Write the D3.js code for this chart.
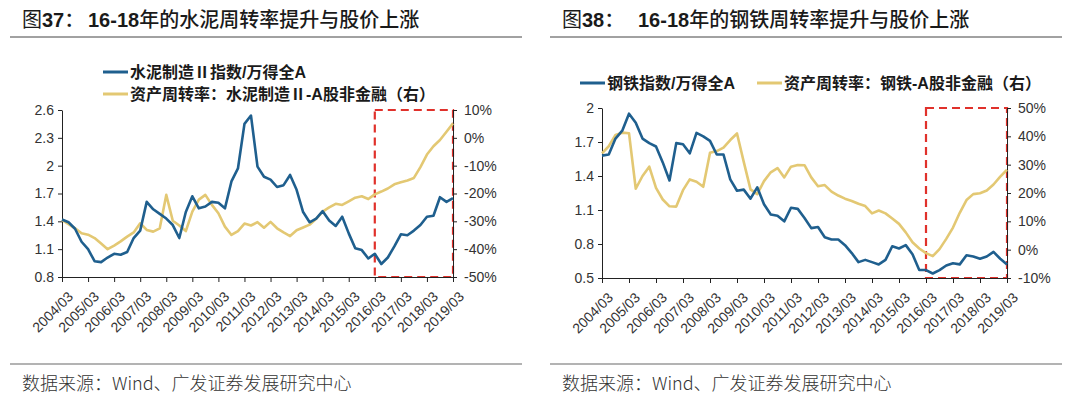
<!DOCTYPE html>
<html>
<head>
<meta charset="utf-8">
<script src="https://cdn.jsdelivr.net/npm/d3@7"></script>
<style>
  body { margin: 0; background: #fff; }
  svg text { font-family: "Liberation Sans", Arial, "Noto Sans CJK SC", sans-serif; }
</style>
</head>
<body>
<svg id="chart" width="1080" height="398"></svg>
<script>
// x-axis tick labels (one per year, March quarter)
const tickLabels = ["2004/03","2005/03","2006/03","2007/03","2008/03","2009/03","2010/03","2011/03",
  "2012/03","2013/03","2014/03","2015/03","2016/03","2017/03","2018/03","2019/03"];

// quarterly categories 2004/03 .. 2019/03
const quarters = tickLabels.flatMap((t, i) => {
  const y = t.slice(0, 4);
  return i < tickLabels.length - 1 ? [t, y + "/06", y + "/09", y + "/12"] : [t];
});

// 图37 水泥
const cementIndex = [1.42,1.39,1.32,1.18,1.10,0.97,0.96,1.01,1.05,1.04,1.07,1.22,1.30,1.61,1.53,1.48,
  1.43,1.36,1.22,1.50,1.67,1.54,1.56,1.61,1.60,1.54,1.83,1.97,2.45,2.54,1.99,1.88,
  1.85,1.77,1.79,1.90,1.74,1.50,1.39,1.43,1.51,1.41,1.35,1.45,1.27,1.11,1.09,1.00,
  1.05,0.94,1.01,1.13,1.26,1.25,1.30,1.36,1.45,1.46,1.66,1.61,1.65];
const cementTurnover = [-0.295,-0.31,-0.325,-0.343,-0.348,-0.36,-0.38,-0.40,-0.387,-0.372,-0.355,-0.34,-0.307,-0.331,-0.337,-0.325,
  -0.205,-0.298,-0.315,-0.335,-0.265,-0.222,-0.205,-0.241,-0.271,-0.319,-0.349,-0.335,-0.308,-0.315,-0.303,-0.323,
  -0.302,-0.325,-0.34,-0.353,-0.332,-0.322,-0.312,-0.291,-0.265,-0.25,-0.237,-0.241,-0.228,-0.215,-0.21,-0.22,
  -0.203,-0.193,-0.182,-0.167,-0.16,-0.153,-0.144,-0.105,-0.06,-0.03,-0.008,0.022,0.052];

// 图38 钢铁
const steelIndex = [1.58,1.59,1.73,1.80,1.95,1.87,1.73,1.69,1.66,1.52,1.36,1.69,1.68,1.60,1.78,1.75,
  1.71,1.59,1.59,1.37,1.27,1.28,1.20,1.30,1.15,1.06,1.05,1.00,1.12,1.11,1.03,0.94,
  0.95,0.86,0.84,0.84,0.79,0.72,0.64,0.66,0.64,0.62,0.66,0.78,0.76,0.79,0.71,0.57,
  0.57,0.54,0.57,0.61,0.63,0.62,0.70,0.69,0.67,0.69,0.73,0.67,0.62];
const steelTurnover = [0.34,0.365,0.405,0.413,0.411,0.215,0.26,0.293,0.218,0.177,0.153,0.152,0.21,0.248,0.24,0.222,
  0.342,0.348,0.36,0.387,0.41,0.31,0.213,0.196,0.242,0.273,0.288,0.255,0.293,0.299,0.298,0.255,
  0.224,0.228,0.205,0.191,0.18,0.172,0.162,0.154,0.128,0.138,0.128,0.11,0.091,0.061,0.026,0.004,
  -0.012,-0.023,0.002,0.038,0.078,0.13,0.175,0.196,0.199,0.209,0.23,0.258,0.282];

const blue = "#1f5f8e";
const gold = "#e3c873";
const red = "#e0312b";

const panels = [
  {
    fig: "37", head: "16-18", rest: "年的水泥周转率提升与股价上涨",
    titleX: 22, headX: 88, ruleX: [10, 522],
    x: [62, 453], y: [277, 110],
    left: [0.8, 2.6], leftTicks: [0.8, 1.1, 1.4, 1.7, 2, 2.3, 2.6],
    right: [-0.5, 0.1], rightTicks: [-0.5, -0.4, -0.3, -0.2, -0.1, 0, 0.1],
    index: cementIndex, turnover: cementTurnover,
    legend: [
      { label: "水泥制造Ⅱ指数/万得全A", color: blue, x: 103, y: 72 },
      { label: "资产周转率：水泥制造Ⅱ-A股非金融（右）", color: gold, x: 103, y: 94 }
    ]
  },
  {
    fig: "38", head: "16-18", rest: "年的钢铁周转率提升与股价上涨",
    titleX: 562, headX: 638, ruleX: [550, 1062],
    x: [602, 1007], y: [278, 108],
    left: [0.5, 2], leftTicks: [0.5, 0.8, 1.1, 1.4, 1.7, 2],
    right: [-0.1, 0.5], rightTicks: [-0.1, 0, 0.1, 0.2, 0.3, 0.4, 0.5],
    index: steelIndex, turnover: steelTurnover,
    legend: [
      { label: "钢铁指数/万得全A", color: blue, x: 580, y: 83 },
      { label: "资产周转率：钢铁-A股非金融（右）", color: gold, x: 757, y: 83 }
    ]
  }
];

const svg = d3.select("#chart");
const pct = v => Math.round(v * 100) + "%";
const cjk = "'Noto Sans CJK SC'";
const latin = "'Liberation Sans', Arial";

panels.forEach(p => {
  const g = svg.append("g");

  // title: "图37：" then "16-18年..."
  const t1 = g.append("text").attr("x", p.titleX).attr("y", 27).attr("font-size", 20).attr("fill", "#1a1a1a");
  t1.append("tspan").text("图").style("font-family", cjk).attr("font-weight", 400);
  t1.append("tspan").text(p.fig).style("font-family", latin).attr("font-weight", "bold");
  t1.append("tspan").text("：").style("font-family", cjk).attr("font-weight", 500);
  const t2 = g.append("text").attr("x", p.headX).attr("y", 27).attr("font-size", 20).attr("fill", "#1a1a1a");
  t2.append("tspan").text(p.head).style("font-family", latin).attr("font-weight", "bold");
  t2.append("tspan").text(p.rest).style("font-family", cjk).attr("font-weight", 500);

  g.append("line").attr("x1", p.ruleX[0]).attr("x2", p.ruleX[1]).attr("y1", 37).attr("y2", 37)
    .attr("stroke", "#444").attr("stroke-width", 1);

  // footer
  g.append("line").attr("x1", p.ruleX[0]).attr("x2", p.ruleX[1]).attr("y1", 364).attr("y2", 364)
    .attr("stroke", "#9a9a9a").attr("stroke-width", 1.5);
  g.append("text").attr("x", p.titleX).attr("y", 390).attr("font-size", 18).attr("fill", "#333")
    .style("font-family", cjk).attr("font-weight", 300)
    .text("数据来源：Wind、广发证券发展研究中心");

  const x = d3.scalePoint().domain(quarters).range(p.x);
  const yL = d3.scaleLinear().domain(p.left).range(p.y);
  const yR = d3.scaleLinear().domain(p.right).range(p.y);

  // highlight box 2016/03 - end
  g.append("rect")
    .attr("x", x("2016/03")).attr("y", p.y[1])
    .attr("width", x(quarters[quarters.length - 1]) - x("2016/03"))
    .attr("height", p.y[0] - p.y[1])
    .attr("fill", "none").attr("stroke", red).attr("stroke-width", 2.2)
    .attr("stroke-dasharray", "8,5");

  // axes
  const axStyle = sel => {
    sel.selectAll("path,line").attr("stroke", "#222");
    sel.selectAll("text").attr("font-size", 14).attr("fill", "#333").style("font-family", latin);
  };
  g.append("g").attr("transform", `translate(${p.x[0]},0)`)
    .call(d3.axisLeft(yL).tickValues(p.leftTicks).tickFormat(String).tickSize(4).tickSizeOuter(0).tickPadding(4))
    .call(axStyle);
  g.append("g").attr("transform", `translate(${p.x[1]},0)`)
    .call(d3.axisRight(yR).tickValues(p.rightTicks).tickFormat(pct).tickSize(4).tickSizeOuter(0).tickPadding(7))
    .call(axStyle);
  g.append("g").attr("transform", `translate(0,${p.y[0]})`)
    .call(d3.axisBottom(x).tickValues(tickLabels).tickSize(5).tickSizeOuter(0))
    .call(axStyle)
    .call(a => a.selectAll("text")
      .attr("x", 0).attr("y", 0).attr("dy", "0.35em")
      .attr("text-anchor", "end")
      .attr("transform", "translate(8,17) rotate(-45)"));

  // lines
  const lineL = d3.line().x((d, i) => x(quarters[i])).y(d => yL(d));
  const lineR = d3.line().x((d, i) => x(quarters[i])).y(d => yR(d));
  g.append("path").datum(p.turnover).attr("d", lineR)
    .attr("fill", "none").attr("stroke", gold).attr("stroke-width", 2.6).attr("stroke-linejoin", "round");
  g.append("path").datum(p.index).attr("d", lineL)
    .attr("fill", "none").attr("stroke", blue).attr("stroke-width", 2.6).attr("stroke-linejoin", "round");

  // legend
  const lg = g.selectAll("g.legend").data(p.legend).join("g").attr("class", "legend")
    .attr("transform", d => `translate(${d.x},${d.y})`);
  lg.append("line").attr("x1", 0).attr("x2", 25).attr("stroke", d => d.color).attr("stroke-width", 3);
  lg.append("text").attr("x", 27).attr("dy", "0.36em").attr("font-size", 16).attr("font-weight", "bold")
    .attr("fill", "#1a1a1a").style("font-family", "'Liberation Sans', 'Noto Sans CJK SC'")
    .text(d => d.label);
});
</script>
</body>
</html>
